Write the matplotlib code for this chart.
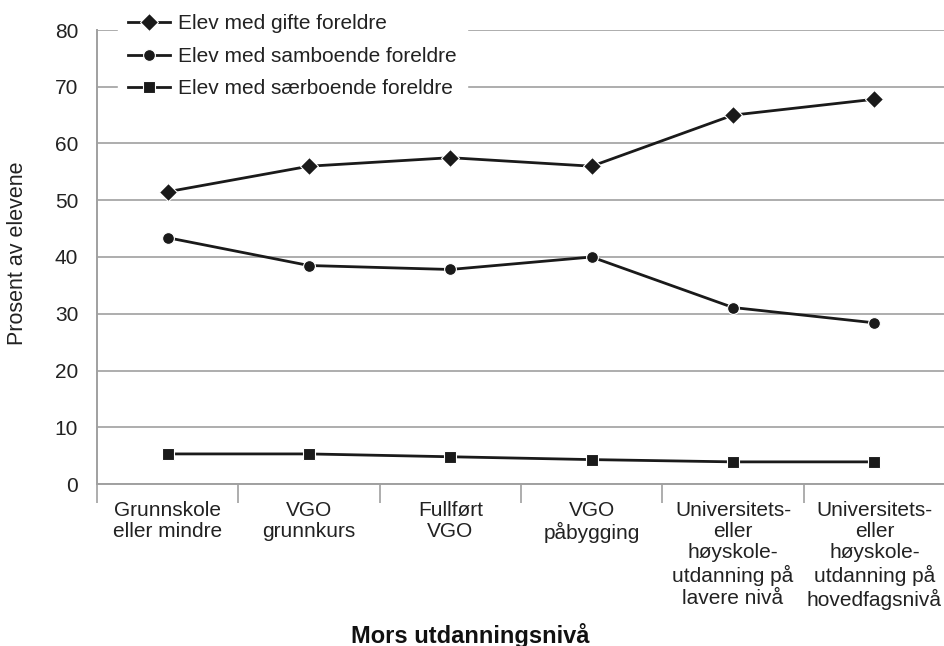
import matplotlib
matplotlib.use("Agg")
import matplotlib.pyplot as plt
import numpy as np

plt.rcParams["font.family"] = ["Liberation Sans", "DejaVu Sans"]

categories = [
    "Grunnskole\neller mindre",
    "VGO\ngrunnkurs",
    "Fullført\nVGO",
    "VGO\npåbygging",
    "Universitets-\neller\nhøyskole-\nutdanning på\nlavere nivå",
    "Universitets-\neller\nhøyskole-\nutdanning på\nhovedfagsnivå",
]
gifte = [51.5, 56.0, 57.5, 56.0, 65.0, 67.8]
samboende = [43.4, 38.5, 37.8, 40.0, 31.1, 28.4]
saerboende = [5.3, 5.3, 4.8, 4.3, 3.9, 3.9]
series_labels = [
    "Elev med gifte foreldre",
    "Elev med samboende foreldre",
    "Elev med særboende foreldre",
]

fig = plt.figure(figsize=(9.45, 6.46), dpi=100)
ax = fig.add_axes([97 / 945, 1 - 484 / 646, 1 - 97 / 945, (484 - 30) / 646])

x = np.arange(len(categories))
grey = "#a0a0a0"
txt = "#222222"

ax.plot(x, gifte, color="#1a1a1a", lw=2, marker="D", ms=9.5,
        mec="white", mew=0.8, label=series_labels[0], zorder=3)
ax.plot(x, samboende, color="#1a1a1a", lw=2, marker="o", ms=8.5,
        mec="white", mew=0.8, label=series_labels[1], zorder=3)
ax.plot(x, saerboende, color="#1a1a1a", lw=2, marker="s", ms=8,
        mec="white", mew=0.8, label=series_labels[2], zorder=3)

ax.set_xlim(-0.5, len(categories) - 0.5)
ax.set_ylim(0, 80)
ax.set_yticks(range(0, 81, 10))
ax.yaxis.grid(True, color=grey, lw=1.2)
ax.set_axisbelow(True)

ax.set_xticks(x)
ax.set_xticklabels(categories, fontsize=15, color=txt, linespacing=1.16)
ax.set_xticks(np.arange(-0.5, len(categories), 1.0), minor=True)
ax.tick_params(axis="x", which="major", length=0, pad=12)
ax.tick_params(axis="x", which="minor", length=14, color=grey, width=1.2)
ax.tick_params(axis="y", length=0, labelsize=15, pad=13.5, colors=txt)

for side in ["top", "right"]:
    ax.spines[side].set_visible(False)
for side in ["left", "bottom"]:
    ax.spines[side].set_color(grey)
    ax.spines[side].set_linewidth(1.4)

fig.text(18 / 945, 1 - 253 / 646, "Prosent av elevene", fontsize=15.5,
         rotation=90, ha="center", va="center", color=txt)
fig.text(470 / 945, 1 - 635 / 646, "Mors utdanningsnivå", fontsize=17,
         fontweight="bold", ha="center", va="center", color="#111111")

leg = ax.legend(loc="upper left", bbox_to_anchor=(118 / 945, 1 - 4 / 646),
                bbox_transform=fig.transFigure, fontsize=15, frameon=True,
                fancybox=False, edgecolor="white", facecolor="white",
                framealpha=1, handlelength=2.0, handletextpad=0.4,
                labelspacing=0.65, borderpad=0.5, borderaxespad=0)
for t in leg.get_texts():
    t.set_color(txt)

fig.savefig("out.png", dpi=100)
